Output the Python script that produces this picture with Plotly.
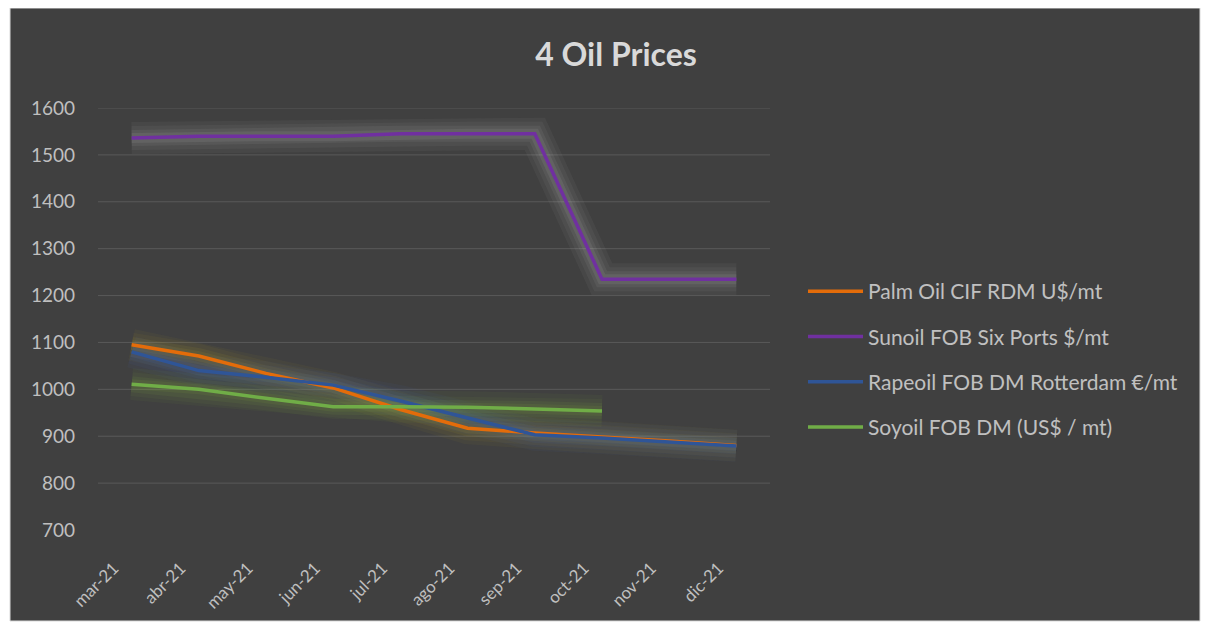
import plotly.graph_objects as go

months = ["mar-21", "abr-21", "may-21", "jun-21", "jul-21", "ago-21", "sep-21", "oct-21", "nov-21", "dic-21"]
palm = [1095, 1071, 1034, 1003, 957, 917, 907, 899, 890, 880]
sunoil = [1536, 1540, 1540, 1540, 1545, 1545, 1545, 1235, 1235, 1235]
rapeoil = [1080, 1040, 1026, 1009, 975, 939, 903, 896, 888, 879]
soyoil = [1011, 1000, 981, 963, 963, 962, 958, 954, None, None]
y_ticks = [700, 800, 900, 1000, 1100, 1200, 1300, 1400, 1500, 1600]

series = [
    ("Palm Oil CIF RDM U$/mt", palm, "#E36C0A", (200, 175, 40)),
    ("Sunoil FOB Six Ports $/mt", sunoil, "#7030A0", (210, 210, 210)),
    ("Rapeoil FOB DM Rotterdam €/mt", rapeoil, "#2F5597", (70, 110, 210)),
    ("Soyoil FOB DM (US$ / mt)", soyoil, "#70AD47", (140, 190, 60)),
]

fig = go.Figure()
# soft glow behind lines
for name, vals, col, g in series:
    for w, a in [(32, 0.05), (24, 0.06), (16, 0.08), (10, 0.09)]:
        fig.add_trace(go.Scatter(x=months, y=vals, mode="lines", showlegend=False,
                                 hoverinfo="skip",
                                 line=dict(color=f"rgba({g[0]},{g[1]},{g[2]},{a})", width=w)))
for i, (name, vals, col, g) in enumerate(series):
    fig.add_trace(go.Scatter(x=months, y=vals, mode="lines", name=name, legendgroup=f"g{i}",
                             line=dict(color=col, width=3.5)))

W, H = 1209, 629
OFF = 8  # page offset
L, R, T, B = 98 - OFF, 770 - OFF, 108 - OFF, 530 - OFF
pw, ph = R - L, B - T

shapes = [dict(type="rect", xref="paper", yref="paper", layer="below",
               x0=(10 - OFF - L) / pw, x1=(1200 - OFF - L) / pw,
               y0=(B - (621 - OFF)) / ph, y1=(B - (8 - OFF)) / ph,
               fillcolor="#404040", line=dict(color="#d9d9d9", width=1))]
for v in y_ticks[1:]:
    shapes.append(dict(type="line", xref="paper", yref="y", layer="below",
                       x0=0, x1=1, y0=v, y1=v, line=dict(color="#595959", width=1)))

fig.update_layout(
    width=W, height=H,
    margin=dict(l=L, r=W - R, t=T, b=H - B),
    paper_bgcolor="white", plot_bgcolor="#404040",
    font=dict(family="Lato, Carlito, Calibri, sans-serif", color="#bfbfbf"),
    title=dict(text="<b>4 Oil Prices</b>", x=(616 - OFF) / W, xanchor="center",
               y=1 - (55 - OFF) / H, yanchor="middle",
               font=dict(size=32, color="#d9d9d9")),
    shapes=shapes,
    legend=dict(x=(803 - OFF - L) / pw, xanchor="left", y=(B - (271 - OFF)) / ph, yanchor="top",
                font=dict(size=21, color="#c0c0c0"), bgcolor="rgba(0,0,0,0)",
                tracegroupgap=15, itemwidth=55),
    showlegend=True,
)
fig.update_xaxes(range=[-0.5, 9.5], showgrid=False, showline=False, zeroline=False,
                 tickangle=-45, tickfont=dict(size=17, color="#bfbfbf"), ticks="",
                 ticklabelstandoff=24, ticklabelshift=-18)
fig.update_yaxes(range=[700, 1600], tickvals=y_ticks, showgrid=False, zeroline=False,
                 showline=False, ticks="", tickfont=dict(size=19, color="#bfbfbf"),
                 ticklabelstandoff=22)

fig.write_html("out.html")
